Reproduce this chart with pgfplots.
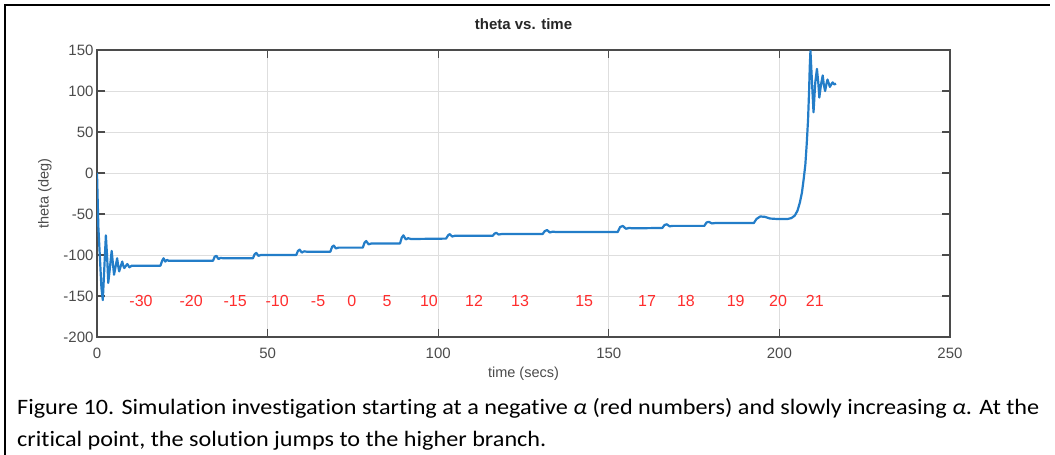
\documentclass[border=0pt]{standalone}
\usepackage{fontspec}
\setmainfont{Liberation Sans}
\newfontfamily\calib{Carlito}[FakeStretch=1.1, Ligatures=NoCommon]
\usepackage{pgfplots}
\pgfplotsset{compat=1.18}
\definecolor{mblue}{RGB}{35,125,200}
\definecolor{lblred}{RGB}{255,45,45}
\definecolor{axgray}{RGB}{75,75,75}
\begin{document}
\begin{tikzpicture}[x=1pt,y=1pt]
\path[use as bounding box] (0,0) rectangle (1055,-455);
\draw[line width=1.3pt] (5,-455) -- (5,-5) -- (1050,-5);
\begin{axis}[
  at={(97pt,-337pt)}, anchor=south west,
  scale only axis, width=853pt, height=287pt,
  xmin=0, xmax=250, ymin=-200, ymax=150,
  xtick={0,50,...,250}, ytick={-200,-150,...,150},
  grid=major, major grid style={draw=black!13, line width=1pt},
  axis line style={draw=axgray, line width=1.1pt},
  tick style={draw=axgray, line width=1.1pt},
  tick align=inside, major tick length=8pt,
  xtick pos=both, ytick pos=both,
  /pgf/number format/assume math mode=true,
  ticklabel style={font=\fontsize{15}{15}\selectfont, text=axgray},
  xticklabel style={yshift=-7pt},
  title={theta vs. time},
  title style={font=\bfseries\fontsize{15}{15}\selectfont, text=black!85, at={(axis description cs:0.5,1)}, anchor=base, yshift=15pt},
  xlabel={time (secs)},
  xlabel style={font=\fontsize{14.5}{14.5}\selectfont, text=axgray, at={(axis description cs:0.5,0)}, anchor=base, yshift=-40pt},
  ylabel={theta (deg)},
  ylabel style={font=\fontsize{14.5}{14.5}\selectfont, text=axgray, at={([xshift=-52pt]axis description cs:0,0.5)}, anchor=center},
]
\addplot[mblue, line width=2.2pt, line join=round] coordinates {
(0,0) (0.4,-66) (0.9,-107) (1.3,-140) (1.7,-155) (2.1,-120) (2.6,-76) (3.0,-105) (3.3,-134)
(3.8,-115) (4.3,-95) (4.7,-112) (5.0,-124) (5.5,-113) (5.9,-104) (6.2,-113) (6.5,-120)
(7.0,-113) (7.4,-108) (7.7,-113) (8.0,-116) (8.5,-113) (8.9,-111) (9.2,-113) (9.5,-115)
(10.2,-113) (18.6,-113) (19.1,-107) (19.5,-104) (20.0,-108) (20.5,-106) (21,-107)
(34.0,-107) (34.5,-102) (35.0,-101) (35.6,-105) (36.2,-103.5) (37,-104)
(45.7,-104) (46.2,-99) (46.7,-97.5) (47.3,-101) (48,-100)
(58.4,-100) (58.9,-95) (59.4,-93.5) (60,-97) (60.7,-95.5) (61.5,-96)
(68.4,-96) (68.9,-90) (69.4,-88.5) (70,-92) (70.8,-91)
(77.9,-91) (78.4,-85) (78.9,-83) (79.6,-87) (80.4,-86)
(88.8,-86) (89.3,-79) (89.8,-76) (90.5,-81) (91.2,-79.5) (92,-80.5)
(102.3,-80) (102.9,-76) (103.4,-74.5) (104.1,-77.5) (104.9,-76.5)
(116,-76.5) (116.5,-74) (117,-73) (117.7,-75) (118.5,-74.5)
(130.6,-74.5) (131.2,-71) (131.9,-69.5) (132.7,-72.5) (133.6,-71.5) (134.5,-72)
(152.6,-72) (153.3,-66) (154.1,-64.5) (155.0,-68) (156.0,-67) (157,-67.5)
(165.7,-67) (166.3,-63.5) (167.0,-62.5) (167.8,-65) (168.7,-64.5)
(178.0,-64.5) (178.6,-60.5) (179.3,-59.5) (180.2,-61.5) (181.2,-61)
(192.5,-61) (193.3,-56) (194.4,-53) (195.8,-53.5) (197.2,-55.5) (199,-56)
(202.5,-56) (203.5,-55) (204.5,-52) (205.3,-46) (206.0,-36) (206.6,-24) (207.1,-8)
(207.6,10) (208.0,35) (208.4,65) (208.7,100) (208.9,130) (209.1,149)
(209.5,115) (210.0,74) (210.5,110) (211.0,127) (211.4,110) (211.7,92) (212.2,108)
(212.7,119) (213.0,108) (213.4,100) (213.8,109) (214.1,114) (214.5,109) (214.8,105)
(215.2,108) (215.6,110.5) (216.1,108) (216.6,109)
};
\addplot[draw=none, mark=none, point meta=explicit symbolic, nodes near coords,
  nodes near coords align=center,
  every node near coord/.append style={text=lblred, font=\fontsize{16}{16}\selectfont, anchor=center}]
coordinates {
(12.9,-156) [-30] (27.6,-156) [-20] (40.5,-156) [-15] (52.8,-156) [-10]
(64.8,-156) [-5] (74.7,-156) [0] (85.0,-156) [5] (97.3,-156) [10]
(110.5,-156) [12] (124.0,-156) [13] (142.8,-156) [15] (161.2,-156) [17]
(172.6,-156) [18] (187.2,-156) [19] (199.6,-156) [20] (210.4,-156) [21]
};
\end{axis}
\node[anchor=base west, inner sep=0pt, font=\calib\fontsize{22}{32}\selectfont] at (17,-414)
  {Figure 10. Simulation investigation starting at a negative {\itshape α} (red numbers) and slowly increasing {\itshape α}. At the};
\node[anchor=base west, inner sep=0pt, font=\calib\fontsize{22}{32}\selectfont] at (17,-446)
  {critical point, the solution jumps to the higher branch.};
\end{tikzpicture}
\end{document}
